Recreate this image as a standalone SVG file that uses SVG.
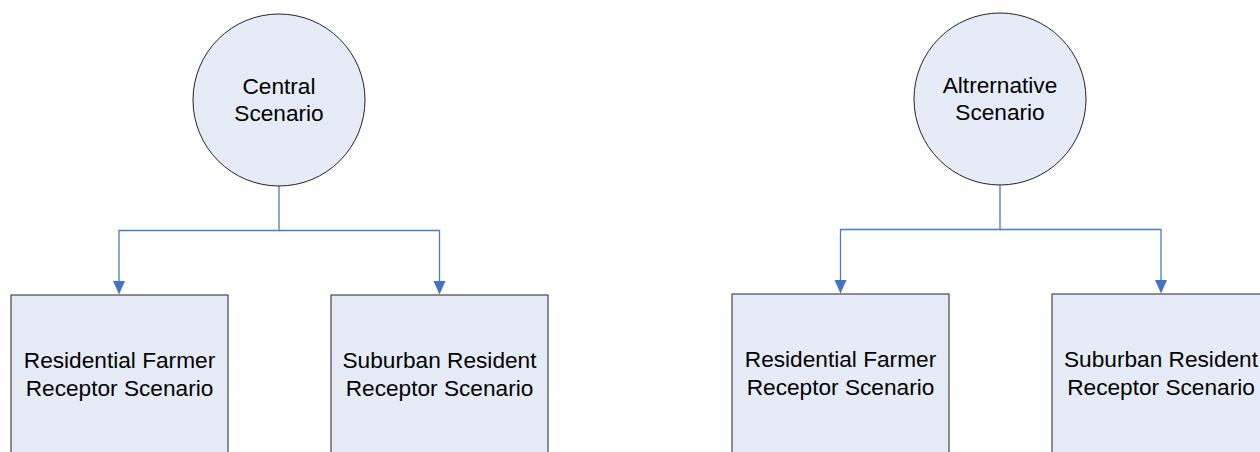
<svg xmlns="http://www.w3.org/2000/svg" width="1260" height="452" viewBox="0 0 1260 452">
<style>
.n{fill:#E6ECF7;stroke:#222;stroke-width:1}
.t{font-family:"Liberation Sans",Arial,sans-serif;font-size:22.67px;fill:#000;text-anchor:middle}
.c{fill:none;stroke:#4A7AC8;stroke-width:1.3}
.a{fill:#4472C4}
</style>
<rect width="1260" height="452" fill="#fff"/>
<g id="connectors">
<path class="c" d="M279,186 V230.5 H119 V281"/>
<path class="c" d="M279,230.5 H439.5 V281"/>
<path class="c" d="M1000,185 V229.5 H840.5 V280"/>
<path class="c" d="M1000,229.5 H1161 V280"/>
<path class="a" d="M113,281 L125,281 L119,294.5 Z"/>
<path class="a" d="M433.5,281 L445.5,281 L439.5,294.5 Z"/>
<path class="a" d="M834.5,280 L846.5,280 L840.5,293.5 Z"/>
<path class="a" d="M1155,280 L1167,280 L1161,293.5 Z"/>
</g>
<g id="central">
<circle class="n" cx="279" cy="100" r="86"/>
<text class="t" x="279" y="94">Central</text>
<text class="t" x="279" y="121">Scenario</text>
</g>
<g id="alternative">
<circle class="n" cx="1000" cy="99" r="86"/>
<text class="t" x="1000" y="93">Altrernative</text>
<text class="t" x="1000" y="120">Scenario</text>
</g>
<g id="farmer1">
<rect class="n" x="11" y="295" width="217" height="170"/>
<text class="t" x="119.5" y="368">Residential Farmer</text>
<text class="t" x="119.5" y="396">Receptor Scenario</text>
</g>
<g id="suburban1">
<rect class="n" x="331" y="295" width="217" height="170"/>
<text class="t" x="439.5" y="368">Suburban Resident</text>
<text class="t" x="439.5" y="396">Receptor Scenario</text>
</g>
<g id="farmer2">
<rect class="n" x="732" y="294" width="217" height="170"/>
<text class="t" x="840.5" y="367">Residential Farmer</text>
<text class="t" x="840.5" y="395">Receptor Scenario</text>
</g>
<g id="suburban2">
<rect class="n" x="1052" y="294" width="217" height="170"/>
<text class="t" x="1161" y="367">Suburban Resident</text>
<text class="t" x="1161" y="395">Receptor Scenario</text>
</g>
</svg>
